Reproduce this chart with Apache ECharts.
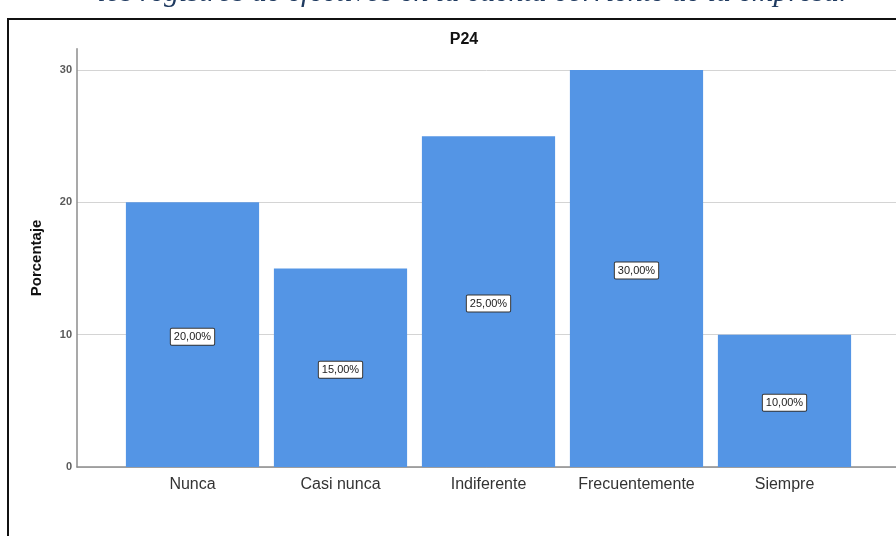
<!DOCTYPE html>
<html>
<head>
<meta charset="utf-8">
<script src="https://cdn.jsdelivr.net/npm/echarts@6/dist/echarts.min.js"></script>
<style>
  html, body { margin: 0; padding: 0; background: #fff; }
  #chart { width: 896px; height: 536px; }
</style>
</head>
<body>
<div id="chart"></div>
<script>
// Frequency chart for item P24
const categories = ['Nunca', 'Casi nunca', 'Indiferente', 'Frecuentemente', 'Siempre'];
const percentages = [20, 15, 25, 30, 10];
const yTicks = [0, 10, 20, 30];

const captionText = 'los registros de efectivos en la cuenta corriente de la empresa.';
const chartTitle = 'P24';
const yAxisTitle = 'Porcentaje';

const barColor = '#5495e5';
const yMax = 31.6;

const fmtPct = v => v.toFixed(2).replace('.', ',') + '%';

const chart = echarts.init(document.getElementById('chart'));

chart.setOption({
  animation: false,
  backgroundColor: '#ffffff',
  title: {
    text: chartTitle,
    left: 459,
    top: 27,
    textAlign: 'center',
    textStyle: { fontFamily: 'Liberation Sans', fontSize: 16, fontWeight: 'bold', color: '#111' }
  },
  graphic: [
    {
      type: 'text',
      style: {
        x: 472, y: 8.5,
        text: captionText,
        align: 'center',
        verticalAlign: 'bottom',
        font: 'italic 30px "Liberation Serif"',
        fill: '#1f3a60'
      }
    },
    {
      type: 'rect',
      shape: { x: 8, y: 19, width: 920, height: 560 },
      style: { fill: 'none', stroke: '#111', lineWidth: 2 },
      silent: true
    }
  ],
  grid: [
    // bars
    { left: 118.5, right: 37.5, top: 48.8, bottom: 69, containLabel: false },
    // axis frame, gridlines
    { left: 77, right: -30, top: 48.8, bottom: 69, containLabel: false }
  ],
  xAxis: [
    {
      type: 'category',
      gridIndex: 0,
      data: categories,
      axisLine: { show: false },
      axisTick: { show: false },
      axisLabel: {
        interval: 0,
        margin: 10,
        fontFamily: 'Liberation Sans',
        fontSize: 16,
        color: '#333'
      }
    },
    {
      type: 'value',
      gridIndex: 1,
      min: 0, max: 1,
      axisLine: { show: true, onZero: false, lineStyle: { color: '#8c8c8c', width: 1.5 } },
      axisTick: { show: false },
      axisLabel: { show: false },
      splitLine: { show: false }
    }
  ],
  yAxis: [
    {
      type: 'value',
      gridIndex: 0,
      min: 0, max: yMax, interval: 10,
      axisLine: { show: false },
      axisTick: { show: false },
      axisLabel: { show: false },
      splitLine: { show: false }
    },
    {
      type: 'value',
      gridIndex: 1,
      min: 0, max: yMax, interval: 10,
      name: yAxisTitle,
      nameLocation: 'middle',
      nameGap: 33,
      nameTextStyle: { fontFamily: 'Liberation Sans', fontSize: 15, fontWeight: 'bold', color: '#111' },
      axisLine: { show: true, lineStyle: { color: '#8c8c8c', width: 1.5 } },
      axisTick: { show: false },
      axisLabel: {
        margin: 5,
        fontFamily: 'Liberation Sans',
        fontSize: 11,
        fontWeight: 'bold',
        color: '#5a5a5a',
        showMaxLabel: false,
        formatter: v => (yTicks.includes(v) ? String(v) : '')
      },
      splitLine: { show: true, showMaxLine: false, lineStyle: { color: '#d4d4d4', width: 1 } }
    }
  ],
  series: [
    {
      type: 'bar',
      xAxisIndex: 0,
      yAxisIndex: 0,
      data: percentages,
      barCategoryGap: '10%',
      itemStyle: { color: barColor },
      label: {
        show: true,
        position: 'inside',
        offset: [0, 2],
        formatter: p => fmtPct(p.value),
        fontFamily: 'Liberation Sans',
        fontSize: 11,
        color: '#222',
        backgroundColor: '#ffffff',
        borderColor: '#333',
        borderWidth: 1,
        borderRadius: 1,
        padding: [3, 3, 2, 3]
      }
    }
  ]
});
</script>
</body>
</html>
